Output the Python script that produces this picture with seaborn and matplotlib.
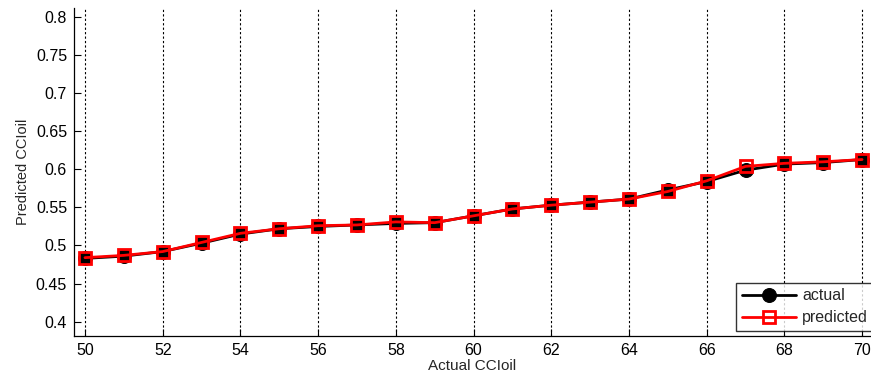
import matplotlib
matplotlib.use("Agg")
import matplotlib.pyplot as plt
import seaborn as sns
import pandas as pd

x_vals = [50, 51, 52, 53, 54, 55, 56, 57, 58, 59, 60, 61, 62, 63, 64, 65, 66, 67, 68, 69, 70]
actual = [0.483, 0.486, 0.492, 0.503, 0.515, 0.522, 0.525, 0.527, 0.529, 0.530, 0.539, 0.548, 0.553,
          0.557, 0.561, 0.573, 0.584, 0.599, 0.607, 0.609, 0.613]
predicted = [0.484, 0.487, 0.492, 0.504, 0.516, 0.522, 0.526, 0.527, 0.531, 0.530, 0.539, 0.548, 0.553,
             0.557, 0.561, 0.571, 0.585, 0.604, 0.608, 0.610, 0.613]
x_ticks = list(range(50, 71, 2))
y_ticks = [0.4, 0.45, 0.5, 0.55, 0.6, 0.65, 0.7, 0.75, 0.8]

sns.set_theme(style="white")
plt.rcParams['font.family'] = ['Liberation Sans', 'DejaVu Sans']

df = pd.DataFrame({"x": x_vals, "actual": actual, "predicted": predicted})

fig = plt.figure(figsize=(8.71, 3.77), dpi=100)
ax = fig.add_axes([74 / 871, 1 - 336 / 377, 1 - 74 / 871, (336 - 8) / 377])

sns.lineplot(data=df, x="x", y="actual", ax=ax, color="black", lw=2, marker="o",
             markersize=10, markeredgecolor="black", markerfacecolor="black", label="actual")
sns.lineplot(data=df, x="x", y="predicted", ax=ax, color="red", lw=2, marker="s",
             markersize=9, markeredgecolor="red", markerfacecolor="none", markeredgewidth=2,
             label="predicted")

ax.set_xlim(49.717, 70.23)
ax.set_ylim(0.381, 0.8122)
ax.set_xticks(x_ticks)
ax.set_yticks(y_ticks)
ax.set_yticklabels([f"{v:g}" for v in y_ticks])
ax.tick_params(direction="in", length=5, width=0.8, colors="black", labelsize=11.5,
               left=True, bottom=True, pad=5)
for xv in x_ticks:
    ax.axvline(xv, color="black", ls=(0, (2, 2)), lw=0.8, zorder=0)

for s in ["top", "right"]:
    ax.spines[s].set_visible(False)
for s in ["left", "bottom"]:
    ax.spines[s].set_color("black")
    ax.spines[s].set_linewidth(0.9)

ax.set_xlabel("Actual CCIoil", fontsize=11, labelpad=1)
ax.set_ylabel("Predicted CCIoil", fontsize=10.5, labelpad=4)

leg = ax.legend(loc="lower left", bbox_to_anchor=(736 / 871, (377 - 331) / 377),
                bbox_transform=fig.transFigure, fontsize=11.5, frameon=True, fancybox=False,
                handlelength=3.4, borderaxespad=0, handletextpad=0.4, labelspacing=0.45,
                borderpad=0.35)
leg.get_frame().set_edgecolor("black")
leg.get_frame().set_linewidth(1.0)

fig.savefig("out.png", dpi=100)
